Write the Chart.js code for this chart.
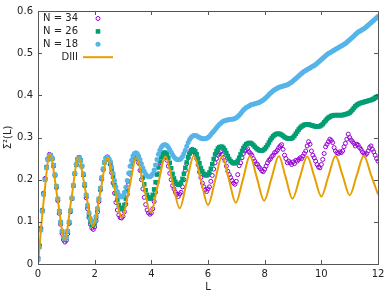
<!DOCTYPE html>
<html>
<head>
<meta charset="utf-8">
<script src="https://cdn.jsdelivr.net/npm/chart.js@4/dist/chart.umd.min.js"></script>
<style>
  html, body { margin: 0; padding: 0; background: #fff; }
  #wrap { width: 392px; height: 294px; }
</style>
</head>
<body>
<div id="wrap"><canvas id="myChart" width="392" height="294"></canvas></div>
<script>
// L grid of the simulated spectra (step 0.05 from 0 to 12)
var lValues = [];
for (var i = 0; i <= 240; i++) lValues.push(+(i * 0.05).toFixed(2));

// N = 34, one line per unit of L
var n34 = [
  0.015,0.045,0.085,0.128,0.168,0.203,0.230,0.250,0.260,0.258,0.249,0.232,0.210,0.181,0.150,0.120,0.094,0.072,0.057,0.052,
  0.056,0.072,0.096,0.124,0.155,0.186,0.214,0.236,0.249,0.253,0.247,0.232,0.211,0.185,0.157,0.131,0.110,0.094,0.085,0.082,
  0.088,0.102,0.123,0.148,0.175,0.201,0.224,0.241,0.251,0.254,0.249,0.236,0.216,0.192,0.168,0.146,0.128,0.116,0.110,0.109,
  0.113,0.124,0.142,0.165,0.190,0.213,0.232,0.245,0.252,0.254,0.250,0.240,0.222,0.200,0.178,0.158,0.141,0.128,0.121,0.118,
  0.121,0.131,0.148,0.170,0.193,0.214,0.232,0.246,0.254,0.257,0.255,0.246,0.232,0.215,0.200,0.186,0.178,0.170,0.165,0.160,
  0.166,0.170,0.183,0.200,0.222,0.238,0.252,0.262,0.270,0.272,0.266,0.262,0.250,0.235,0.218,0.205,0.192,0.183,0.176,0.172,
  0.178,0.183,0.196,0.210,0.225,0.240,0.250,0.258,0.262,0.266,0.260,0.252,0.245,0.232,0.220,0.212,0.205,0.198,0.192,0.189,
  0.196,0.212,0.233,0.240,0.252,0.262,0.268,0.270,0.273,0.266,0.262,0.258,0.250,0.244,0.238,0.236,0.230,0.226,0.221,0.219,
  0.225,0.232,0.240,0.246,0.249,0.255,0.258,0.264,0.266,0.270,0.276,0.280,0.283,0.272,0.258,0.250,0.240,0.244,0.240,0.236,
  0.242,0.238,0.246,0.244,0.248,0.252,0.250,0.256,0.262,0.268,0.280,0.290,0.284,0.268,0.258,0.252,0.244,0.236,0.230,0.228,
  0.236,0.248,0.262,0.278,0.284,0.290,0.296,0.293,0.288,0.276,0.268,0.264,0.262,0.266,0.264,0.268,0.278,0.286,0.296,0.308,
  0.300,0.294,0.290,0.286,0.280,0.284,0.282,0.276,0.272,0.266,0.262,0.258,0.262,0.268,0.276,0.280,0.272,0.266,0.258,0.250,
  0.244
];

// N = 26
var n26 = [
  0.012,0.042,0.082,0.126,0.166,0.201,0.229,0.248,0.258,0.258,0.250,0.234,0.211,0.184,0.154,0.125,0.099,0.077,0.063,0.058,
  0.062,0.077,0.099,0.126,0.156,0.186,0.214,0.235,0.248,0.252,0.246,0.232,0.212,0.188,0.162,0.137,0.116,0.101,0.093,0.092,
  0.097,0.110,0.130,0.154,0.179,0.204,0.225,0.241,0.251,0.253,0.248,0.240,0.225,0.207,0.187,0.168,0.152,0.140,0.133,0.130,
  0.132,0.140,0.155,0.175,0.196,0.216,0.233,0.246,0.254,0.257,0.256,0.250,0.238,0.222,0.205,0.189,0.175,0.164,0.158,0.155,
  0.157,0.164,0.177,0.194,0.212,0.229,0.243,0.254,0.261,0.264,0.264,0.260,0.252,0.240,0.227,0.214,0.203,0.195,0.190,0.188,
  0.189,0.193,0.202,0.214,0.228,0.241,0.253,0.262,0.268,0.270,0.270,0.267,0.260,0.250,0.239,0.228,0.220,0.214,0.211,0.210,
  0.212,0.217,0.226,0.237,0.249,0.260,0.268,0.274,0.277,0.278,0.278,0.275,0.270,0.263,0.256,0.249,0.244,0.241,0.239,0.239,
  0.241,0.245,0.252,0.260,0.268,0.275,0.280,0.284,0.286,0.287,0.287,0.285,0.282,0.278,0.275,0.272,0.270,0.269,0.269,0.270,
  0.273,0.277,0.282,0.288,0.294,0.299,0.303,0.306,0.308,0.309,0.309,0.308,0.306,0.304,0.301,0.299,0.298,0.297,0.297,0.298,
  0.300,0.304,0.309,0.314,0.319,0.323,0.326,0.328,0.330,0.331,0.331,0.331,0.330,0.329,0.328,0.327,0.326,0.326,0.326,0.327,
  0.329,0.332,0.336,0.340,0.344,0.347,0.349,0.351,0.352,0.353,0.353,0.353,0.353,0.353,0.353,0.353,0.354,0.355,0.356,0.357,
  0.359,0.362,0.366,0.370,0.374,0.377,0.379,0.381,0.382,0.383,0.384,0.385,0.386,0.387,0.388,0.389,0.390,0.392,0.394,0.396,
  0.398
];

// N = 18
var n18 = [
  0.010,0.040,0.080,0.125,0.165,0.200,0.228,0.248,0.258,0.258,0.250,0.235,0.212,0.185,0.155,0.126,0.100,0.078,0.064,0.060,
  0.063,0.078,0.100,0.127,0.157,0.187,0.215,0.236,0.249,0.252,0.246,0.233,0.214,0.190,0.164,0.140,0.122,0.108,0.101,0.100,
  0.102,0.113,0.132,0.155,0.180,0.205,0.226,0.242,0.251,0.253,0.250,0.243,0.230,0.215,0.198,0.183,0.172,0.164,0.160,0.159,
  0.162,0.170,0.182,0.198,0.215,0.232,0.246,0.256,0.262,0.264,0.262,0.256,0.248,0.238,0.228,0.220,0.213,0.209,0.207,0.207,
  0.209,0.214,0.223,0.235,0.248,0.260,0.270,0.277,0.281,0.283,0.283,0.281,0.277,0.271,0.265,0.259,0.254,0.250,0.248,0.247,
  0.248,0.250,0.255,0.262,0.270,0.279,0.288,0.295,0.300,0.303,0.305,0.305,0.304,0.302,0.300,0.298,0.297,0.297,0.297,0.298,
  0.300,0.303,0.307,0.311,0.315,0.319,0.323,0.327,0.331,0.334,0.337,0.339,0.340,0.341,0.342,0.342,0.343,0.343,0.344,0.345,
  0.347,0.350,0.353,0.357,0.361,0.365,0.368,0.371,0.373,0.375,0.377,0.378,0.379,0.380,0.381,0.382,0.383,0.385,0.387,0.389,
  0.392,0.395,0.398,0.402,0.405,0.408,0.411,0.413,0.415,0.417,0.419,0.420,0.421,0.422,0.423,0.424,0.425,0.427,0.429,0.431,
  0.434,0.437,0.440,0.443,0.446,0.449,0.452,0.455,0.457,0.459,0.461,0.463,0.465,0.467,0.469,0.471,0.473,0.476,0.479,0.482,
  0.485,0.488,0.491,0.494,0.497,0.499,0.501,0.503,0.505,0.507,0.509,0.511,0.513,0.515,0.517,0.519,0.521,0.523,0.526,0.529,
  0.532,0.535,0.538,0.541,0.544,0.547,0.550,0.552,0.554,0.556,0.558,0.560,0.563,0.566,0.569,0.572,0.575,0.578,0.581,0.584,
  0.587
];

// DIII prediction, read at its extrema and half-way points
var diiiL = [0, 0.2, 0.42, 0.68, 0.94, 1.18, 1.42, 1.68, 1.94, 2.2, 2.45, 2.7, 2.96, 3.22, 3.47, 3.73, 3.97,
  4.24, 4.5, 4.75, 5.0, 5.25, 5.5, 5.75, 6.0, 6.25, 6.5, 6.74, 6.98, 7.23, 7.48, 7.73, 7.98, 8.24, 8.5,
  8.74, 8.98, 9.24, 9.5, 9.75, 10.0, 10.25, 10.5, 10.75, 11.0, 11.25, 11.5, 11.75, 12.0];
var diiiVal = [0, 0.15, 0.26, 0.16, 0.058, 0.155, 0.252, 0.172, 0.09, 0.17, 0.252, 0.18, 0.11, 0.18, 0.252, 0.187, 0.122,
  0.19, 0.255, 0.194, 0.132, 0.195, 0.257, 0.198, 0.14, 0.198, 0.256, 0.2, 0.145, 0.2, 0.256, 0.203, 0.15, 0.203, 0.256,
  0.206, 0.155, 0.205, 0.255, 0.208, 0.16, 0.208, 0.256, 0.21, 0.163, 0.21, 0.257, 0.212, 0.165];

var xTicks = [0, 2, 4, 6, 8, 10, 12];
var yTicks = [0, 0.1, 0.2, 0.3, 0.4, 0.5, 0.6];

function pts(xs, ys) {
  var out = [];
  for (var k = 0; k < ys.length; k++) out.push({x: xs[k], y: ys[k]});
  return out;
}

Chart.defaults.font.family = "'DejaVu Sans', sans-serif";
Chart.defaults.font.size = 10;
Chart.defaults.color = "#222";

// box, inward ticks on all four sides, and the key in the top left corner
var gnuplotLook = {
  id: "gnuplotLook",
  afterDatasetsDraw: function(chart) {
    var ctx = chart.ctx, a = chart.chartArea;
    var sx = chart.scales.x, sy = chart.scales.y;
    ctx.save();
    ctx.strokeStyle = "#555";
    ctx.lineWidth = 1;
    ctx.beginPath();
    xTicks.forEach(function(v) {
      var p = Math.round(sx.getPixelForValue(v)) + 0.5;
      ctx.moveTo(p, a.bottom); ctx.lineTo(p, a.bottom - 4);
      ctx.moveTo(p, a.top); ctx.lineTo(p, a.top + 4);
    });
    yTicks.forEach(function(v) {
      var p = Math.round(sy.getPixelForValue(v)) + 0.5;
      ctx.moveTo(a.left, p); ctx.lineTo(a.left + 4, p);
      ctx.moveTo(a.right, p); ctx.lineTo(a.right - 4, p);
    });
    ctx.stroke();
    ctx.strokeRect(Math.round(a.left) + 0.5, Math.round(a.top) + 0.5,
      Math.round(a.right - a.left), Math.round(a.bottom - a.top));

    // key
    var textX = 78, markX = 98, rowY = 18.5, step = 12.9;
    ctx.font = "10px 'DejaVu Sans', sans-serif";
    ctx.textAlign = "right";
    ctx.textBaseline = "middle";
    chart.data.datasets.forEach(function(ds, k) {
      var y = rowY + k * step;
      ctx.fillStyle = "#222";
      ctx.fillText(ds.label, textX, y);
      if (ds.showLine) {
        ctx.strokeStyle = ds.borderColor;
        ctx.lineWidth = 2;
        ctx.beginPath(); ctx.moveTo(markX - 15, y); ctx.lineTo(markX + 15, y); ctx.stroke();
      } else if (ds.pointStyle === "rect") {
        ctx.fillStyle = ds.pointBackgroundColor;
        ctx.fillRect(markX - 2.3, y - 2.3, 4.6, 4.6);
      } else if (ds.pointBackgroundColor === "#fff" || ds.pointBackgroundColor === "transparent") {
        ctx.strokeStyle = ds.pointBorderColor;
        ctx.lineWidth = 1;
        ctx.beginPath(); ctx.arc(markX, y, 2, 0, Math.PI * 2); ctx.stroke();
      } else {
        ctx.fillStyle = ds.pointBackgroundColor;
        ctx.beginPath(); ctx.arc(markX, y, 2.5, 0, Math.PI * 2); ctx.fill();
      }
    });
    ctx.restore();
  }
};

var chart = new Chart(document.getElementById("myChart").getContext("2d"), {
  type: "scatter",
  data: {
    datasets: [
      {
        label: "N = 34",
        data: pts(lValues, n34),
        showLine: false,
        pointStyle: "circle",
        pointRadius: 2,
        pointBorderWidth: 1,
        pointBorderColor: "#9400d3",
        pointBackgroundColor: "transparent",
        order: 4
      },
      {
        label: "N = 26",
        data: pts(lValues, n26),
        showLine: false,
        pointStyle: "rect",
        pointRadius: 3.2,
        pointBorderWidth: 0,
        pointBorderColor: "#009e73",
        pointBackgroundColor: "#009e73",
        order: 3
      },
      {
        label: "N = 18",
        data: pts(lValues, n18),
        showLine: false,
        pointStyle: "circle",
        pointRadius: 2.5,
        pointBorderWidth: 0,
        pointBorderColor: "#56b4e9",
        pointBackgroundColor: "#56b4e9",
        order: 2
      },
      {
        label: "DIII",
        type: "line",
        data: pts(diiiL, diiiVal),
        showLine: true,
        borderColor: "#e69f00",
        borderWidth: 2,
        pointRadius: 0,
        cubicInterpolationMode: "monotone",
        fill: false,
        order: 1
      }
    ]
  },
  options: {
    responsive: false,
    animation: false,
    layout: { padding: { left: 0, top: 9, right: 14, bottom: 0 } },
    plugins: { legend: { display: false }, tooltip: { enabled: false } },
    scales: {
      x: {
        type: "linear",
        min: 0, max: 12,
        afterFit: function(s) { s.height = 30; },
        afterBuildTicks: function(s) { s.ticks = xTicks.map(function(v) { return {value: v}; }); },
        grid: { display: false, drawTicks: false },
        border: { display: false },
        ticks: { padding: 4, maxRotation: 0, color: "#222" },
        title: { display: true, text: "L", padding: { top: 0, bottom: 1 }, color: "#222" }
      },
      y: {
        min: 0, max: 0.6,
        afterFit: function(s) { s.width = 38; },
        afterBuildTicks: function(s) { s.ticks = yTicks.map(function(v) { return {value: v}; }); },
        grid: { display: false, drawTicks: false },
        border: { display: false },
        ticks: { padding: 5, color: "#222", callback: function(v) { return String(+v.toFixed(1)); } },
        title: { display: true, text: "Σ²(L)", padding: { top: 2, bottom: 0 }, color: "#222" }
      }
    }
  },
  plugins: [gnuplotLook]
});
</script>
</body>
</html>
